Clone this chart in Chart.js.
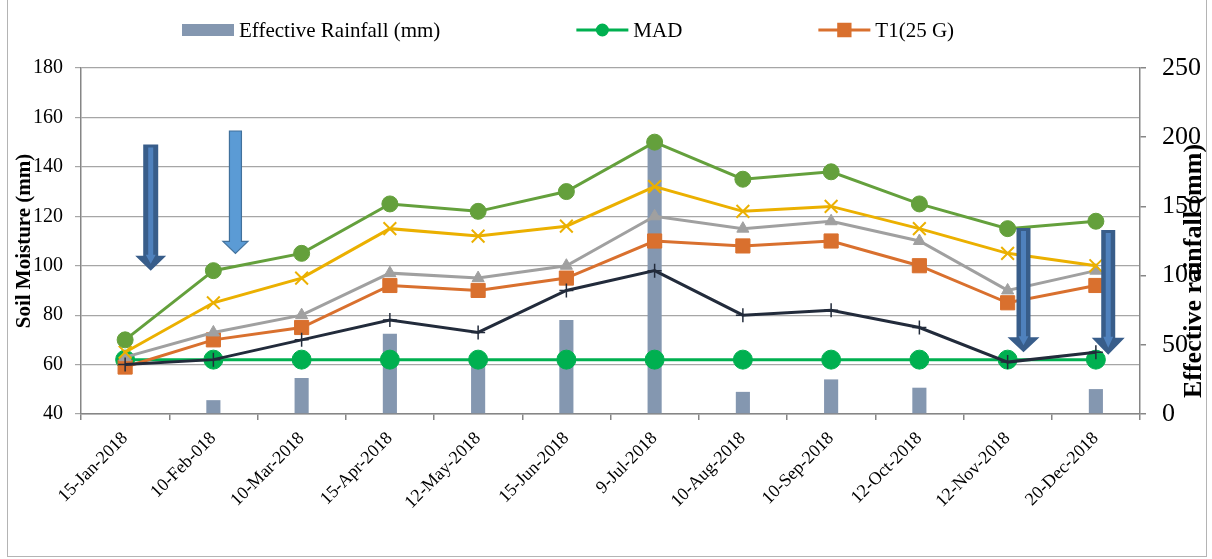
<!DOCTYPE html>
<html>
<head>
<meta charset="utf-8">
<title>Soil Moisture</title>
<script src="https://cdn.jsdelivr.net/npm/chart.js@4.4.0/dist/chart.umd.min.js"></script>
<style>
html, body { margin:0; padding:0; background:#fff; }
#wrap { position:relative; width:1212px; height:559px; }
#frame { position:absolute; left:7px; top:-1px; width:1198px; height:556px; border:1px solid #b4b4b4; pointer-events:none; }
</style>
</head>
<body>
<div id="wrap">
<canvas id="soilChart" width="1212" height="559"></canvas>
<div id="frame"></div>
</div>
<script>
//資料
var dates = ['15-Jan-2018', '10-Feb-018', '10-Mar-2018', '15-Apr-2018', '12-May-2018', '15-Jun-2018',
             '9-Jul-2018', '10-Aug-2018', '10-Sep-2018', '12-Oct-2018', '12-Nov-2018', '20-Dec-2018'];
var rainfall = [0, 10, 26, 58, 42, 68, 195, 16, 25, 19, 0, 18];  //有效雨量 (右軸)
var mad = [62, 62, 62, 62, 62, 62, 62, 62, 62, 62, 62, 62];
var t1 = [59, 70, 75, 92, 90, 95, 110, 108, 110, 100, 85, 92];
var t2 = [63, 73, 80, 97, 95, 100, 120, 115, 118, 110, 90, 98];
var t3 = [65, 85, 95, 115, 112, 116, 132, 122, 124, 115, 105, 100];
var t4 = [70, 98, 105, 125, 122, 130, 150, 135, 138, 125, 115, 118];
var t5 = [60, 62, 70, 78, 73, 90, 98, 80, 82, 75, 61, 65];
var leftTicks = [40, 180, 20];   //min, max, step
var rightTicks = [0, 250, 50];

//箭頭 (類別索引, 起點值, 箭尖值)
var arrowMarks = [
    { at: 0.29, from: 149, to: 98, shaft: 15, head: 31, headLen: 15, light: false },
    { at: 1.25, from: 154.5, to: 105, shaft: 12, head: 25, headLen: 12, light: true },
    { at: 10.18, from: 115.3, to: 65, shaft: 14, head: 32, headLen: 15, light: false },
    { at: 11.14, from: 114.5, to: 64, shaft: 14, head: 33, headLen: 17, light: false }
];

const serif = "'Liberation Serif', 'Times New Roman', serif";
Chart.defaults.font.family = serif;
Chart.defaults.color = '#000';

function lineSet(label, data, color, style, radius, order, extra) {
    return Object.assign({
        type: 'line',
        label: label,
        data: data,
        yAxisID: 'y',
        borderColor: color,
        backgroundColor: color,
        borderWidth: 3,
        pointStyle: style,
        pointRadius: radius,
        pointBorderWidth: 1,
        pointBackgroundColor: color,
        pointBorderColor: color,
        tension: 0,
        order: order
    }, extra || {});
}

//箭頭
const arrowPlugin = {
    id: 'arrowPlugin',
    afterDatasetsDraw(chart) {
        const ctx = chart.ctx;
        const xs = chart.scales.x, ys = chart.scales.y;
        function shape(cx, top, tip, sw, hw, hl) {
            const hs = tip - hl;
            ctx.beginPath();
            ctx.moveTo(cx - sw / 2, top);
            ctx.lineTo(cx + sw / 2, top);
            ctx.lineTo(cx + sw / 2, hs);
            ctx.lineTo(cx + hw / 2, hs);
            ctx.lineTo(cx, tip);
            ctx.lineTo(cx - hw / 2, hs);
            ctx.lineTo(cx - sw / 2, hs);
            ctx.closePath();
        }
        ctx.save();
        arrowMarks.forEach(a => {
            const cx = xs.getPixelForValue(a.at);
            const top = ys.getPixelForValue(a.from);
            const tip = ys.getPixelForValue(a.to);
            shape(cx, top, tip, a.shaft, a.head, a.headLen);
            if (a.light) {
                ctx.fillStyle = '#5B9BD5';
                ctx.fill();
                ctx.lineWidth = 1.2;
                ctx.strokeStyle = '#41719C';
                ctx.stroke();
            } else {
                ctx.fillStyle = '#385D8A';
                ctx.fill();
                shape(cx, top + 3, tip - 7, 5, 10, a.headLen - 6);
                ctx.fillStyle = '#4F81BD';
                ctx.fill();
            }
        });
        ctx.restore();
    }
};

//圖例與右軸標題
const legendPlugin = {
    id: 'legendPlugin',
    afterDraw(chart) {
        const ctx = chart.ctx;
        const y = 30;
        let x = 182;
        ctx.save();
        ctx.font = '21px ' + serif;
        ctx.textBaseline = 'middle';
        chart.data.datasets.forEach(ds => {
            if (!ds.inLegend) return;
            if (ds.type === 'bar') {
                ctx.fillStyle = ds.backgroundColor;
                ctx.fillRect(x, y - 6, 52, 12);
            } else {
                ctx.strokeStyle = ds.borderColor;
                ctx.lineWidth = 3;
                ctx.beginPath();
                ctx.moveTo(x, y);
                ctx.lineTo(x + 52, y);
                ctx.stroke();
                ctx.fillStyle = ds.borderColor;
                Chart.helpers.drawPoint(ctx, { pointStyle: ds.pointStyle, rotation: 0, radius: ds.legendRadius, borderWidth: 1 }, x + 26, y);
            }
            x += 57;
            ctx.fillStyle = '#000';
            ctx.fillText(ds.label, x, y + 1);
            x += ctx.measureText(ds.label).width + 136;
        });
        //右軸標題
        const area = chart.chartArea;
        ctx.font = 'bold 26px ' + serif;
        ctx.textAlign = 'center';
        ctx.translate(1194, (area.top + area.bottom) / 2 + 30);
        ctx.rotate(-Math.PI / 2);
        ctx.fillText('Effective rainfall (mm)', 0, 0);
        ctx.restore();
    }
};

new Chart(document.getElementById('soilChart'), {
    type: 'bar',
    data: {
        labels: dates,
        datasets: [
            { type: 'bar', label: 'Effective Rainfall (mm)', data: rainfall, yAxisID: 'y1',
              backgroundColor: '#8497B0', barPercentage: 0.16, categoryPercentage: 1, order: 10, inLegend: true },
            lineSet('MAD', mad, '#00B050', 'circle', 9.5, 6, { inLegend: true, legendRadius: 5 }),
            lineSet('T1(25 G)', t1, '#D9702E', 'rect', 10, 5, { inLegend: true, legendRadius: 8 }),
            lineSet('T2', t2, '#A0A0A0', 'triangle', 7, 4),
            lineSet('T3', t3, '#EBB000', 'crossRot', 9, 3, { pointBorderWidth: 2 }),
            lineSet('T4', t4, '#64A03C', 'circle', 8, 2),
            lineSet('T5', t5, '#222B3B', 'cross', 7, 1, { pointBorderWidth: 1.5 })
        ]
    },
    options: {
        responsive: false,
        devicePixelRatio: 1,
        animation: false,
        layout: { padding: { top: 68, left: 0, right: 0, bottom: 0 } },
        plugins: {
            legend: { display: false },
            tooltip: { enabled: false }
        },
        scales: {
            x: {
                offset: true,
                grid: { offset: true, drawOnChartArea: false, tickLength: 6, color: '#868686', lineWidth: 1.5 },
                border: { color: '#868686', width: 1.5 },
                ticks: { font: { size: 18 }, maxRotation: 45, minRotation: 45, autoSkip: false, padding: 8 },
                afterFit: function (scale) { scale.height = 145; }
            },
            y: {
                position: 'left',
                min: leftTicks[0], max: leftTicks[1],
                ticks: { stepSize: leftTicks[2], font: { size: 20 }, padding: 12 },
                grid: { color: '#a6a6a6', lineWidth: 1.2, tickLength: 6 },
                border: { color: '#868686', width: 1.5 },
                title: { display: true, text: 'Soil Moisture (mm)', font: { size: 21, weight: 'bold' }, padding: { top: 12 } },
                afterFit: function (scale) { scale.width = 81; }
            },
            y1: {
                position: 'right',
                min: rightTicks[0], max: rightTicks[1],
                ticks: { stepSize: rightTicks[2], font: { size: 26 }, padding: 16 },
                grid: { drawOnChartArea: false, tickLength: 6, color: '#868686', lineWidth: 1.5 },
                border: { color: '#868686', width: 1.5 },
                afterFit: function (scale) { scale.width = 72; }
            }
        }
    },
    plugins: [arrowPlugin, legendPlugin]
});
</script>
</body>
</html>
